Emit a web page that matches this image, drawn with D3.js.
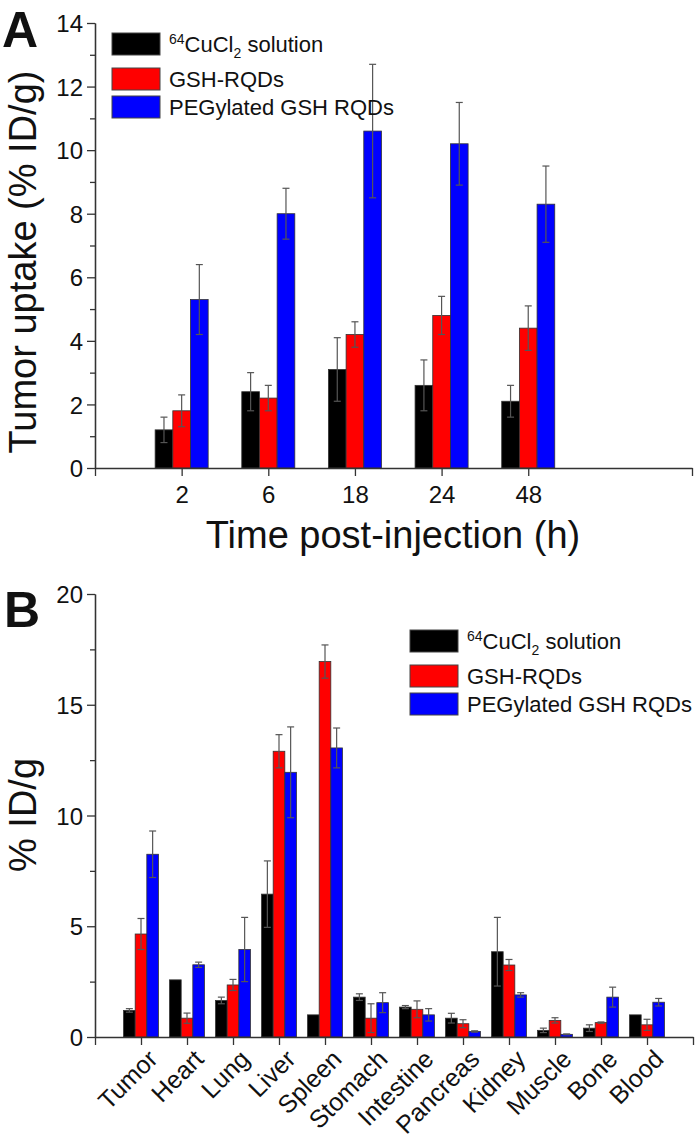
<!DOCTYPE html>
<html><head><meta charset="utf-8">
<script src="https://cdn.jsdelivr.net/npm/d3@7"></script>
<style>body{margin:0;background:#fff} svg{display:block} text{font-family:"Liberation Sans",Arial,sans-serif;fill:#111}</style>
</head><body><svg id="c" width="700" height="1142"></svg>
<script>
// ---------- Panel A data ----------
const catsA = ["2", "6", "18", "24", "48"];
const cuA = [1.2, 2.4, 3.1, 2.6, 2.1];
const cuAErr = [0.4, 0.6, 1.0, 0.8, 0.5];
const gshA = [1.8, 2.2, 4.2, 4.8, 4.4];
const gshAErr = [0.5, 0.4, 0.4, 0.6, 0.7];
const pegA = [5.3, 8.0, 10.6, 10.2, 8.3];
const pegAErr = [1.1, 0.8, 2.1, 1.3, 1.2];
const yTicksA = [0, 2, 4, 6, 8, 10, 12, 14];
const yMinorA = [1, 3, 5, 7, 9, 11, 13];

// ---------- Panel B data ----------
const catsB = ["Tumor", "Heart", "Lung", "Liver", "Spleen", "Stomach", "Intestine", "Pancreas", "Kidney", "Muscle", "Bone", "Blood"];
const cuB = [1.2, 2.58, 1.65, 6.45, 1.0, 1.8, 1.35, 0.85, 3.85, 0.3, 0.4, 1.0];
const cuBErr = [0.08, 0, 0.15, 1.5, 0, 0.15, 0.07, 0.22, 1.55, 0.1, 0.15, 0];
const gshB = [4.65, 0.85, 2.35, 12.9, 16.95, 0.85, 1.25, 0.6, 3.25, 0.75, 0.65, 0.55];
const gshBErr = [0.7, 0.23, 0.25, 0.75, 0.75, 0.65, 0.38, 0.18, 0.25, 0.12, 0.03, 0.25];
const pegB = [8.25, 3.26, 3.95, 11.95, 13.05, 1.55, 1.0, 0.25, 1.9, 0.12, 1.8, 1.57];
const pegBErr = [1.05, 0.12, 1.45, 2.05, 0.9, 0.45, 0.28, 0.03, 0.1, 0.02, 0.45, 0.17];
const yTicksB = [0, 5, 10, 15, 20];
const yMinorB = [2.5, 7.5, 12.5, 17.5];

const colors = ["#000000", "#ff0000", "#0000ff"];

const svg = d3.select("#c");
const AX = "#333";

function panel(o) {
  const g = svg.append("g");
  const x = d3.scaleLinear().domain([0, o.xEnd]).range(o.xRange);
  const y = d3.scaleLinear().domain(o.yDomain).range(o.yRange);
  const step = x(1) - x(0);
  const bw = step * o.barFrac;
  const series = o.series;
  series.forEach((s, j) => {
    g.append("g").selectAll("rect").data(s.vals).join("rect")
      .attr("x", (d, i) => x(i + 1) + (j - 1.5) * bw)
      .attr("y", d => y(d))
      .attr("width", bw)
      .attr("height", d => y(0) - y(d))
      .attr("fill", colors[j])
      .attr("stroke", "#333").attr("stroke-width", 0.8);
  });
  series.forEach((s, j) => {
    const eg = g.append("g").attr("stroke", "#555").attr("stroke-width", 1.2);
    s.vals.forEach((v, i) => {
      const e = s.errs[i];
      if (!e) return;
      const cx = x(i + 1) + (j - 1) * bw;
      const cw = 3.5;
      eg.append("line").attr("x1", cx).attr("x2", cx).attr("y1", y(v + e)).attr("y2", y(Math.max(0, v - e)));
      eg.append("line").attr("x1", cx - cw).attr("x2", cx + cw).attr("y1", y(v + e)).attr("y2", y(v + e));
      if (v - e > 0) eg.append("line").attr("x1", cx - cw).attr("x2", cx + cw).attr("y1", y(v - e)).attr("y2", y(v - e));
    });
  });
  const ya = g.append("g").attr("transform", `translate(${o.xRange[0]},0)`)
    .call(d3.axisLeft(y).tickValues(o.yTicks).tickSize(8).tickSizeOuter(0).tickPadding(4).tickFormat(d3.format("d")));
  g.append("g").attr("transform", `translate(${o.xRange[0]},0)`)
    .call(d3.axisLeft(y).tickValues(o.yMinor).tickSize(5).tickSizeOuter(0).tickFormat(""));
  const xt = [0].concat(o.cats.map((c, i) => i + 1)).concat([o.xEnd]);
  const xa = g.append("g").attr("transform", `translate(0,${o.yRange[0]})`)
    .call(d3.axisBottom(x).tickValues(xt).tickSize(8).tickSizeOuter(0).tickPadding(10)
      .tickFormat(d => (d >= 1 && d <= o.cats.length && Number.isInteger(d)) ? o.cats[d - 1] : ""));
  g.selectAll(".domain, .tick line").attr("stroke", AX).attr("stroke-width", 1.3);
  ya.selectAll("text").attr("font-size", 24).attr("font-family", "Liberation Sans, Arial, sans-serif").attr("fill", "#111").attr("dy", "0.36em");
  xa.selectAll("text").attr("font-size", o.xFont).attr("font-family", "Liberation Sans, Arial, sans-serif").attr("fill", "#111");
  if (o.rotate) {
    xa.selectAll(".tick text")
      .attr("text-anchor", "end")
      .attr("y", 0).attr("dy", "0.71em")
      .attr("transform", "translate(5,11) rotate(-45)");
  }
  return { g, x, y };
}

function legend(x0, ys) {
  const lg = svg.append("g");
  ys.forEach((yy, j) => {
    lg.append("rect").attr("x", x0).attr("y", yy).attr("width", 48).attr("height", 22)
      .attr("fill", colors[j]).attr("stroke", "#444").attr("stroke-width", 1);
  });
  const tx = x0 + 57;
  const t0 = lg.append("text").attr("x", tx).attr("y", ys[0] + 19).attr("font-size", 22);
  t0.append("tspan").attr("font-size", 14).attr("dy", -8).text("64");
  t0.append("tspan").attr("dy", 8).text("CuCl");
  t0.append("tspan").attr("font-size", 14).attr("dy", 6).text("2");
  t0.append("tspan").attr("dy", -6).text(" solution");
  lg.append("text").attr("x", tx).attr("y", ys[1] + 19).attr("font-size", 22).text("GSH-RQDs");
  lg.append("text").attr("x", tx).attr("y", ys[2] + 19).attr("font-size", 22).text("PEGylated GSH RQDs");
}

// Panel A
panel({
  cats: catsA, xEnd: 6.89, xRange: [95, 692], yDomain: [0, 14], yRange: [468, 23],
  yTicks: yTicksA, yMinor: yMinorA, barFrac: 0.204, xFont: 24, rotate: false,
  series: [{ vals: cuA, errs: cuAErr }, { vals: gshA, errs: gshAErr }, { vals: pegA, errs: pegAErr }]
});
legend(112, [33, 68, 96]);
svg.append("text").attr("x", 2).attr("y", 47).attr("font-size", 50).attr("font-weight", "bold").text("A");
svg.append("text").attr("transform", "translate(36,262) rotate(-90)").attr("text-anchor", "middle")
  .attr("font-size", 38).text("Tumor uptake (% ID/g)");
svg.append("text").attr("x", 393).attr("y", 548).attr("text-anchor", "middle")
  .attr("font-size", 38).text("Time post-injection (h)");

// Panel B
panel({
  cats: catsB, xEnd: 13, xRange: [95, 693], yDomain: [0, 20], yRange: [1037, 594],
  yTicks: yTicksB, yMinor: yMinorB, barFrac: 0.253, xFont: 25, rotate: true,
  series: [{ vals: cuB, errs: cuBErr }, { vals: gshB, errs: gshBErr }, { vals: pegB, errs: pegBErr }]
});
legend(410, [630, 665, 693]);
svg.append("text").attr("x", 4).attr("y", 627).attr("font-size", 50).attr("font-weight", "bold").text("B");
svg.append("text").attr("transform", "translate(36,815) rotate(-90)").attr("text-anchor", "middle")
  .attr("font-size", 38).text("% ID/g");
</script>
</body></html>
